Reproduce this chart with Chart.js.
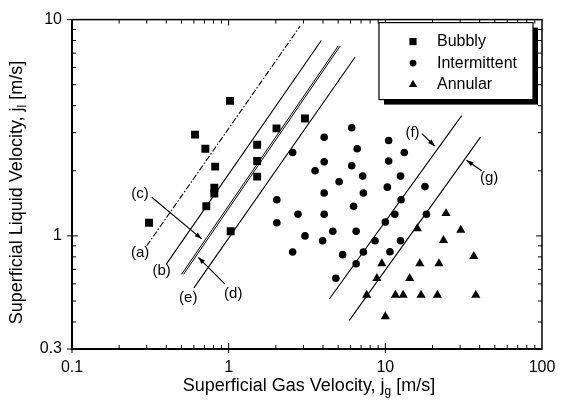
<!DOCTYPE html>
<html>
<head>
<meta charset="utf-8">
<script src="https://cdn.jsdelivr.net/npm/chart.js@4.4.1/dist/chart.umd.min.js"></script>
<style>
  html, body { margin: 0; padding: 0; background: #fff; }
  #wrap { width: 567px; height: 407px; position: relative; }
</style>
</head>
<body>
<div id="wrap"><canvas id="flowMap"></canvas></div>
<script>
// axis ticks
const xTicks = [0.1, 1, 10, 100];
const yTicks = [0.3, 1, 10];

// flow regime data, jg / jl in m/s
const bubblyJg = [0.31, 0.61, 1.02, 0.71, 0.82, 0.81, 0.81, 0.72, 1.52, 1.52, 1.52, 2.02, 3.07, 1.03];
const bubblyJl = [1.15, 2.94, 4.21, 2.53, 2.09, 1.67, 1.57, 1.37, 2.64, 2.22, 1.88, 3.14, 3.49, 1.05];

const interJg = [2.03, 2.03, 2.56, 2.56, 2.77, 3.07, 3.56, 4.07, 4.07, 4.07, 4.07, 3.98, 4.62, 5.07, 5.34, 4.83,
  6.1, 6.1, 6.27, 6.61, 6.51, 6.51, 7.17, 7.24, 7.24, 8.59, 10.5, 10.5, 10.3, 10.0, 10.7, 11.5, 12.6, 12.5, 12.5, 13.2, 17.9, 18.3];
const interJl = [1.47, 1.15, 2.43, 0.842, 1.26, 1.0, 2.0, 2.86, 2.2, 1.58, 1.26, 0.949, 1.05, 1.78, 0.819, 0.637,
  3.16, 2.11, 1.37, 2.53, 1.05, 0.743, 1.89, 1.58, 0.842, 0.949, 2.76, 2.22, 1.68, 1.16, 0.845, 1.26, 1.47, 1.89, 0.949, 2.43, 1.69, 1.26];

const annularJg = [24.4, 30.3, 16.0, 23.5, 36.7, 16.6, 22.0, 9.5, 14.3, 8.83, 7.6, 11.6, 13.0, 16.9, 21.5, 37.8, 10.0];
const annularJl = [1.27, 1.065, 1.08, 0.955, 0.805, 0.745, 0.745, 0.745, 0.637, 0.637, 0.533, 0.533, 0.533, 0.533, 0.533, 0.533, 0.424];

// transition lines (a)-(g): end points
const lineNames = ['a', 'b', 'c', 'd', 'e', 'f', 'g'];
const lineJg = [[0.30, 2.85], [0.40, 3.9], [0.50, 5.0], [0.515, 5.15], [0.60, 6.4], [4.39, 30.7], [5.89, 40.5]];
const lineJl = [[0.90, 9.3], [0.74, 8.0], [0.664, 7.55], [0.664, 7.55], [0.575, 6.7], [0.511, 3.60], [0.407, 2.86]];

// line labels and their pointer arrows
const labelText = ['(a)', '(b)', '(c)', '(d)', '(e)', '(f)', '(g)'];
const labelJg = [0.272, 0.373, 0.272, 1.07, 0.552, 14.9, 46.0];
const labelJl = [0.833, 0.687, 1.56, 0.538, 0.519, 3.01, 1.86];
const arrowFromJg = [0.323, 0.947, 17.1, 41.2];
const arrowFromJl = [1.51, 0.598, 2.97, 2.0];
const arrowToJg = [0.672, 0.640, 20.7, 33.0];
const arrowToJl = [0.969, 0.796, 2.60, 2.24];

const FONT = "'Liberation Sans', Arial, Helvetica, sans-serif";

const pts = (xs, ys) => xs.map((v, i) => ({ x: v, y: ys[i] }));

const lineSets = lineNames.map((n, i) => ({
  label: 'line ' + n,
  data: pts(lineJg[i], lineJl[i]),
  showLine: true,
  pointRadius: 0,
  borderColor: '#000',
  borderWidth: n === 'c' || n === 'd' ? 1 : 1.1,
  borderDash: n === 'a' ? [6, 2, 1.5, 2] : [],
  order: 2
}));

const markers = [
  { label: 'Bubbly', style: 'rect', r: 5.6, xs: bubblyJg, ys: bubblyJl },
  { label: 'Intermittent', style: 'circle', r: 3.8, xs: interJg, ys: interJl },
  { label: 'Annular', style: 'triangle', r: 5.3, xs: annularJg, ys: annularJl }
];

const pointSets = markers.map(m => ({
  label: m.label,
  data: pts(m.xs, m.ys),
  pointStyle: m.style,
  pointRadius: m.r,
  pointHoverRadius: m.r,
  backgroundColor: '#000',
  borderColor: '#000',
  borderWidth: 0,
  order: 1
}));

function drawMarker(ctx, style, r, x, y) {
  if (Chart.helpers && Chart.helpers.drawPoint) {
    Chart.helpers.drawPoint(ctx, { pointStyle: style, radius: r, rotation: 0, borderWidth: 0 }, x, y);
  }
}

const decor = {
  id: 'decor',
  afterDraw(chart) {
    const { ctx, chartArea: a, scales: { x, y } } = chart;
    ctx.save();
    ctx.strokeStyle = '#000';
    ctx.fillStyle = '#000';

    // frame
    ctx.lineWidth = 1.5;
    ctx.strokeRect(a.left, a.top, a.right - a.left, a.bottom - a.top);
    ctx.lineWidth = 2;
    ctx.beginPath();
    ctx.moveTo(a.left, a.top);
    ctx.lineTo(a.left, a.bottom);
    ctx.lineTo(a.right, a.bottom);
    ctx.stroke();

    // ticks
    ctx.lineWidth = 1;
    ctx.beginPath();
    for (let d = 0.1; d < 99; d *= 10) {
      for (let k = 1; k < 10; k++) {
        const v = d * k;
        const px = x.getPixelForValue(v);
        const inLen = k === 1 ? 6 : 4;
        const outLen = k === 1 ? 4 : 0;
        ctx.moveTo(px, a.bottom + outLen); ctx.lineTo(px, a.bottom - inLen);
        ctx.moveTo(px, a.top); ctx.lineTo(px, a.top + inLen);
      }
    }
    const yMinor = [0.3, 0.4, 0.5, 0.6, 0.7, 0.8, 0.9, 1, 2, 3, 4, 5, 6, 7, 8, 9, 10];
    yMinor.forEach(v => {
      const py = y.getPixelForValue(v);
      const major = yTicks.includes(v);
      const inLen = major ? 6 : 4;
      const outLen = major ? 5 : 0;
      ctx.moveTo(a.left - outLen, py); ctx.lineTo(a.left + inLen, py);
      ctx.moveTo(a.right, py); ctx.lineTo(a.right - inLen, py);
    });
    ctx.stroke();

    // line labels
    ctx.font = '15px ' + FONT;
    ctx.textAlign = 'center';
    ctx.textBaseline = 'middle';
    labelText.forEach((t, i) => {
      ctx.fillText(t, x.getPixelForValue(labelJg[i]), y.getPixelForValue(labelJl[i]));
    });

    // arrows
    arrowFromJg.forEach((v, i) => {
      const x0 = x.getPixelForValue(v), y0 = y.getPixelForValue(arrowFromJl[i]);
      const x1 = x.getPixelForValue(arrowToJg[i]), y1 = y.getPixelForValue(arrowToJl[i]);
      const ang = Math.atan2(y1 - y0, x1 - x0);
      ctx.lineWidth = 1.2;
      ctx.beginPath();
      ctx.moveTo(x0, y0); ctx.lineTo(x1, y1);
      ctx.stroke();
      ctx.beginPath();
      ctx.moveTo(x1, y1);
      ctx.lineTo(x1 - 7 * Math.cos(ang) + 2.5 * Math.sin(ang), y1 - 7 * Math.sin(ang) - 2.5 * Math.cos(ang));
      ctx.lineTo(x1 - 7 * Math.cos(ang) - 2.5 * Math.sin(ang), y1 - 7 * Math.sin(ang) + 2.5 * Math.cos(ang));
      ctx.closePath();
      ctx.fill();
    });

    // legend box with drop shadow
    const bx = a.right - 163, by = a.top + 3, bw = 154, bh = 77;
    ctx.fillRect(bx + 5, by + 5, bw, bh);
    ctx.fillStyle = '#fff';
    ctx.fillRect(bx, by, bw, bh);
    ctx.fillStyle = '#000';
    ctx.lineWidth = 1.2;
    ctx.strokeRect(bx, by, bw, bh);
    ctx.font = '16px ' + FONT;
    ctx.textAlign = 'left';
    const rows = [19, 40.5, 62];
    markers.forEach((m, i) => {
      drawMarker(ctx, m.style, m.r * 0.9, bx + 34, by + rows[i]);
      ctx.fillText(m.label, bx + 58, by + rows[i]);
    });

    // axis titles with subscripts
    ctx.textBaseline = 'alphabetic';
    const title = (parts, cx, base) => {
      let w = 0;
      parts.forEach(p => { ctx.font = p.size + 'px ' + FONT; w += ctx.measureText(p.t).width; });
      let px = cx - w / 2;
      parts.forEach(p => {
        ctx.font = p.size + 'px ' + FONT;
        ctx.fillText(p.t, px, base + (p.sub ? 4 : 0));
        px += ctx.measureText(p.t).width;
      });
    };
    ctx.textAlign = 'left';
    title([{ t: 'Superficial Gas Velocity, j', size: 18 }, { t: 'g', size: 12, sub: true }, { t: ' [m/s]', size: 18 }],
      (a.left + a.right) / 2 + 2, 391);
    ctx.save();
    ctx.translate(21.5, 192.5);
    ctx.rotate(-Math.PI / 2);
    title([{ t: 'Superficial Liquid Velocity, j', size: 18 }, { t: 'l', size: 12, sub: true }, { t: ' [m/s]', size: 18 }], 0, 0);
    ctx.restore();

    ctx.restore();
  }
};

new Chart(document.getElementById('flowMap'), {
  type: 'scatter',
  data: { datasets: [...lineSets, ...pointSets] },
  options: {
    responsive: true,
    maintainAspectRatio: false,
    animation: false,
    layout: { padding: { top: 15, right: 25, left: 0, bottom: 0 } },
    plugins: { legend: { display: false }, tooltip: { enabled: false } },
    scales: {
      x: {
        type: 'logarithmic', min: 0.1, max: 100,
        grid: { display: false, drawTicks: false },
        border: { display: false },
        afterBuildTicks: s => { s.ticks = xTicks.map(v => ({ value: v })); },
        afterFit: s => { s.height = 58; },
        ticks: { font: { family: FONT, size: 16 }, color: '#000', padding: 9, maxRotation: 0, autoSkip: false, callback: v => String(v) }
      },
      y: {
        type: 'logarithmic', min: 0.3, max: 10,
        grid: { display: false, drawTicks: false },
        border: { display: false },
        afterBuildTicks: s => { s.ticks = yTicks.map(v => ({ value: v })); },
        afterFit: s => { s.width = 72; },
        ticks: { font: { family: FONT, size: 16 }, color: '#000', padding: 10, autoSkip: false, callback: v => String(v) }
      }
    }
  },
  plugins: [decor]
});
</script>
</body>
</html>
